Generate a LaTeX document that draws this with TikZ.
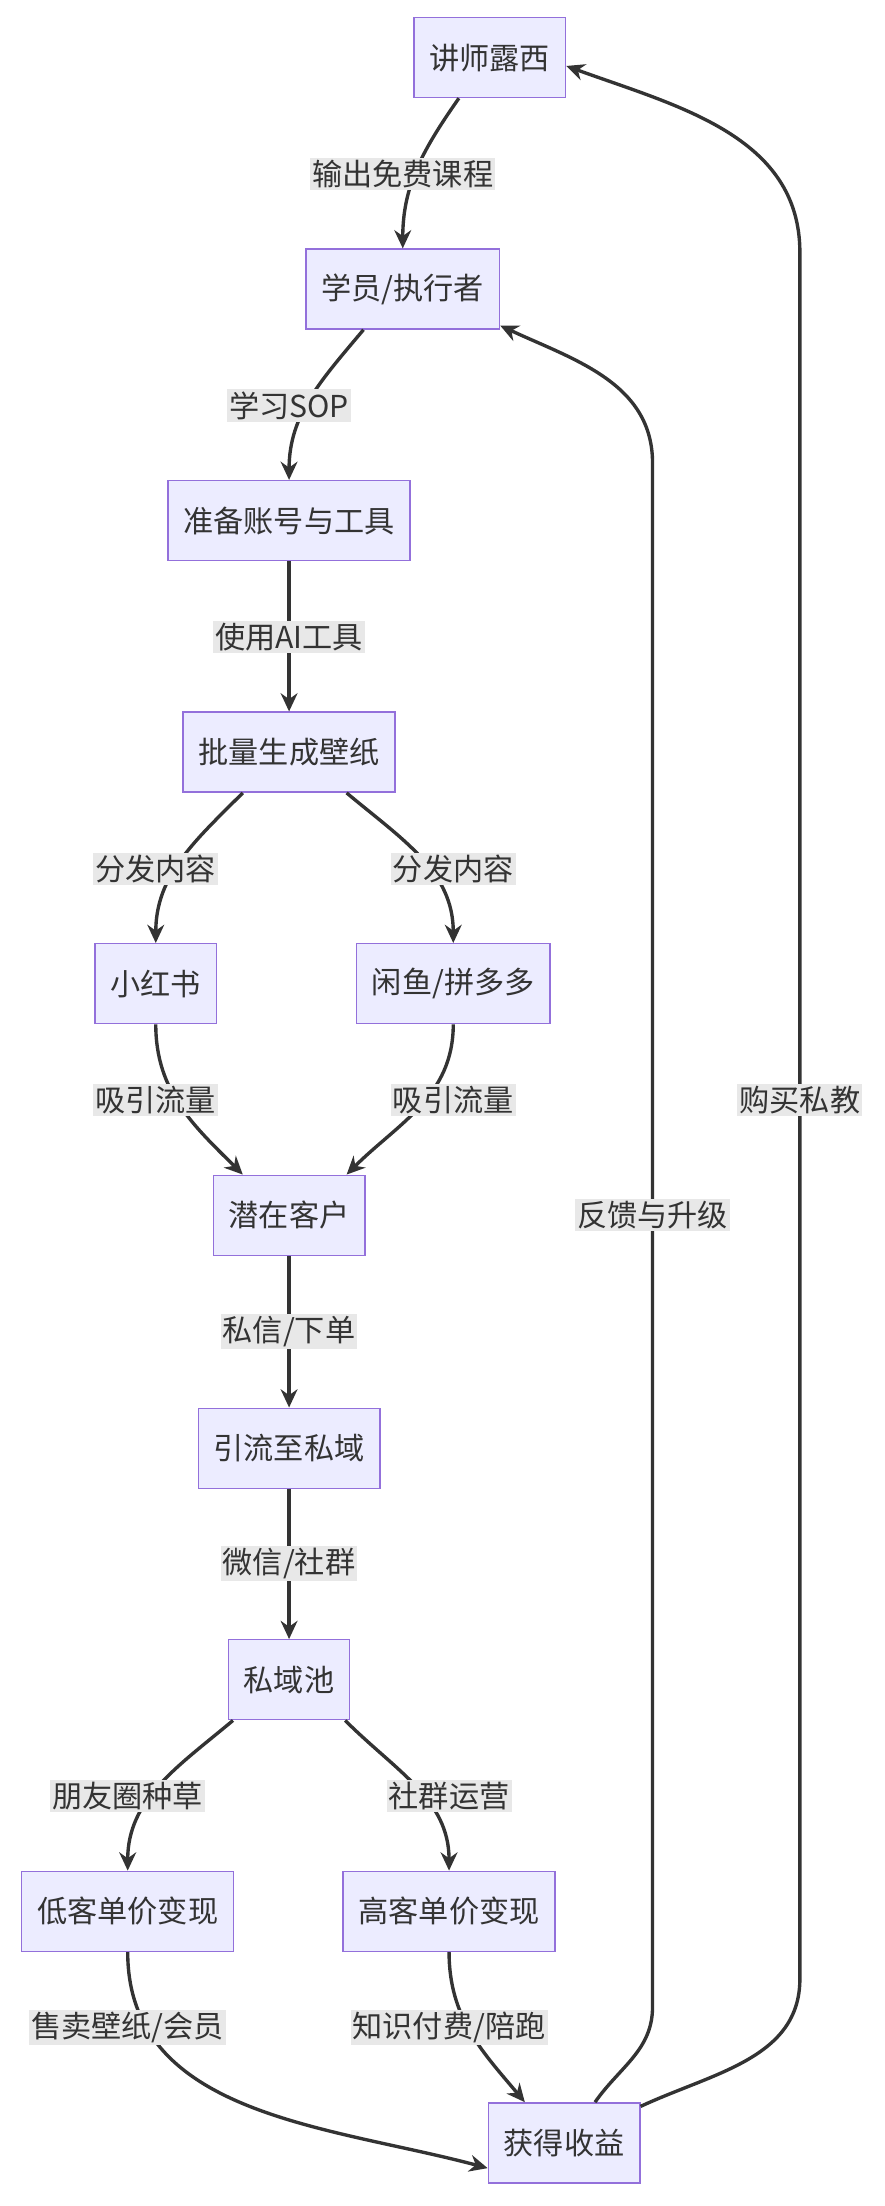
\documentclass[tikz,border=0pt]{standalone}
\usepackage{fontspec}
\setmainfont{Noto Sans CJK SC}
\usetikzlibrary{arrows.meta}
\definecolor{nfill}{HTML}{ECECFF}
\definecolor{nbord}{HTML}{9370DB}
\definecolor{edge}{HTML}{333333}
\definecolor{lbg}{HTML}{E8E8E8}
\begin{document}
\begin{tikzpicture}[x=1pt,y=-1pt,
 box/.style={draw=nbord,fill=nfill,line width=1pt,minimum height=57pt,inner xsep=11pt,font=\fontsize{21.5}{25}\selectfont,text=edge},
 lab/.style={fill=lbg,inner sep=1.5pt,font=\fontsize{21.5}{25}\selectfont,text=edge},
 arr/.style={draw=edge,line width=2.4pt,-{Stealth[length=13pt,width=12pt]}}]
\useasboundingbox[fill=white] (0,0) rectangle (630,1572);
\node[box] (a) at (349,41) {讲师露西};
\node[box] (b) at (287,206) {学员/执行者};
\node[box] (c) at (206,371) {准备账号与工具};
\node[box] (d) at (206,536) {批量生成壁纸};
\node[box] (e) at (111,701) {小红书};
\node[box] (f) at (323,701) {闲鱼/拼多多};
\node[box] (g) at (206,866) {潜在客户};
\node[box] (h) at (206,1032) {引流至私域};
\node[box] (i) at (206,1197) {私域池};
\node[box] (j) at (91,1362) {低客单价变现};
\node[box] (k) at (320,1362) {高客单价变现};
\node[box] (m) at (402,1527) {获得收益};
\coordinate (p1) at (465,1430);
\coordinate (p2) at (465,330);
\coordinate (q1) at (570,1410);
\coordinate (q2) at (570,180);
\draw[arr] ([xshift=-22pt]a.south) to[out=-125,in=90] (b.north);
\draw[arr] ([xshift=-28pt]b.south) to[out=-130,in=90] (c.north);
\draw[arr] (c.south) -- (d.north);
\draw[arr] ([xshift=-33pt]d.south) to[out=-135,in=90] (e.north);
\draw[arr] ([xshift=41pt]d.south) to[out=-40,in=90] (f.north);
\draw[arr] (e.south) to[out=-90,in=135] ([xshift=-33pt]g.north);
\draw[arr] (f.south) to[out=-90,in=45] ([xshift=41pt]g.north);
\draw[arr] (g.south) -- (h.north);
\draw[arr] (h.south) -- (i.north);
\draw[arr] ([xshift=-40pt]i.south) to[out=-140,in=90] (j.north);
\draw[arr] ([xshift=40pt]i.south) to[out=-45,in=90] (k.north);
\draw[arr] (j.south) to[out=-90,in=165] ([yshift=-18pt]m.west);
\draw[arr] (k.south) to[out=-90,in=130] ([xshift=-28pt]m.north);
\draw[arr] ([xshift=22pt]m.north) to[out=55,in=-90] (p1) -- (p2) to[out=90,in=-25] ([yshift=3pt]b.south east);
\draw[arr] ([yshift=-3pt]m.north east) to[out=25,in=-90] (q1) -- (q2) to[out=90,in=-20] ([yshift=-6pt]a.east);
\node[lab] (l1) at (287,124) {输出免费课程};
\node[lab] (l2) at (206,289) {学习SOP};
\node[lab] (l3) at (206,454) {使用AI工具};
\node[lab] (l4) at (111,619) {分发内容};
\node[lab] (l5) at (323,619) {分发内容};
\node[lab] (l6) at (111,784) {吸引流量};
\node[lab] (l7) at (323,784) {吸引流量};
\node[lab] (l8) at (206,949) {私信/下单};
\node[lab] (l9) at (206,1114) {微信/社群};
\node[lab] (l10) at (91,1280) {朋友圈种草};
\node[lab] (l11) at (320,1280) {社群运营};
\node[lab] (l12) at (91,1445) {售卖壁纸/会员};
\node[lab] (l13) at (320,1445) {知识付费/陪跑};
\node[lab] (l14) at (465,866) {反馈与升级};
\node[lab] (l15) at (570,784) {购买私教};
\end{tikzpicture}
\end{document}
